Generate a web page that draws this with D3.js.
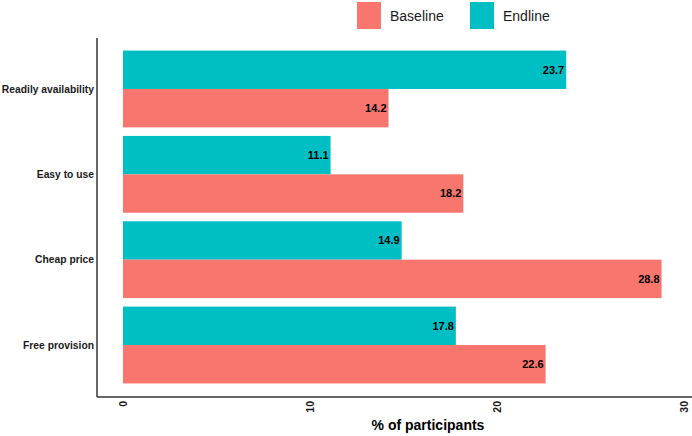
<!DOCTYPE html>
<html>
<head>
<meta charset="utf-8">
<script src="https://cdn.jsdelivr.net/npm/d3@7"></script>
<style>
  body { margin: 0; background: #fff; }
  svg { display: block; font-family: "Liberation Sans", Arial, sans-serif; }
</style>
</head>
<body>
<div id="chart"></div>
<script>
// data
var categories = ["Readily availability", "Easy to use", "Cheap price", "Free provision"];
var baseline = [14.2, 18.2, 28.8, 22.6];
var endline = [23.7, 11.1, 14.9, 17.8];
var series = ["Endline", "Baseline"];
var legendLabels = ["Baseline", "Endline"];
var xTicks = [0, 10, 20, 30];

var colors = {Baseline: "#F8766D", Endline: "#00BFC4"};

var width = 692, height = 436;

var svg = d3.select("#chart").append("svg")
  .attr("width", width)
  .attr("height", height);

var x = d3.scaleLinear()
  .domain([0, 30])
  .range([123, 684]);

var y = d3.scaleBand()
  .domain(categories)
  .range([46.3, 387.7])
  .paddingInner(0.1)
  .paddingOuter(0.05);

var sub = d3.scaleBand()
  .domain(series)
  .range([0, y.bandwidth()]);

var rows = [];
categories.forEach(function(c, i) {
  rows.push({cat: c, s: "Endline", v: endline[i]});
  rows.push({cat: c, s: "Baseline", v: baseline[i]});
});

// bars
svg.selectAll(".bar")
  .data(rows)
  .enter().append("rect")
    .attr("class", "bar")
    .attr("x", x(0))
    .attr("y", function(d) { return y(d.cat) + sub(d.s); })
    .attr("width", function(d) { return x(d.v) - x(0); })
    .attr("height", sub.bandwidth())
    .attr("fill", function(d) { return colors[d.s]; });

// value labels
svg.selectAll(".val")
  .data(rows)
  .enter().append("text")
    .attr("class", "val")
    .attr("x", function(d) { return x(d.v) - 2; })
    .attr("y", function(d) { return y(d.cat) + sub(d.s) + sub.bandwidth() / 2; })
    .attr("dy", "0.35em")
    .attr("text-anchor", "end")
    .attr("font-size", 11)
    .attr("font-weight", "bold")
    .attr("fill", "#000")
    .text(function(d) { return d.v.toFixed(1); });

// axis lines
svg.append("line")
  .attr("x1", 97).attr("x2", 97)
  .attr("y1", 38).attr("y2", 397)
  .attr("stroke", "#333").attr("stroke-width", 1.5);
svg.append("line")
  .attr("x1", 97).attr("x2", width)
  .attr("y1", 397).attr("y2", 397)
  .attr("stroke", "#333").attr("stroke-width", 1.5);

// category labels
svg.selectAll(".cat")
  .data(categories)
  .enter().append("text")
    .attr("class", "cat")
    .attr("x", 94)
    .attr("y", function(d) { return y(d) + y.bandwidth() / 2; })
    .attr("dy", "0.35em")
    .attr("text-anchor", "end")
    .attr("font-size", 10.3)
    .attr("font-weight", "bold")
    .attr("fill", "#1a1a1a")
    .text(function(d) { return d; });

// x tick labels, rotated
svg.selectAll(".tick")
  .data(xTicks)
  .enter().append("text")
    .attr("class", "tick")
    .attr("transform", function(d) { return "translate(" + x(d) + ",401) rotate(-90)"; })
    .attr("dy", "0.35em")
    .attr("text-anchor", "end")
    .attr("font-size", 10.5)
    .attr("font-weight", "bold")
    .attr("fill", "#1a1a1a")
    .text(function(d) { return d; });

svg.append("text")
  .attr("x", 428)
  .attr("y", 430)
  .attr("text-anchor", "middle")
  .attr("font-size", 14)
  .attr("font-weight", "bold")
  .attr("fill", "#000")
  .text("% of participants");

// legend
var leg = svg.selectAll(".leg")
  .data(legendLabels)
  .enter().append("g")
    .attr("class", "leg")
    .attr("transform", function(d, i) { return "translate(" + (357 + i * 113) + ",2)"; });

leg.append("rect")
  .attr("width", 24).attr("height", 27)
  .attr("fill", function(d) { return colors[d]; });

leg.append("text")
  .attr("x", 33)
  .attr("y", 14)
  .attr("dy", "0.35em")
  .attr("font-size", 14)
  .attr("fill", "#1a1a1a")
  .text(function(d) { return d; });
</script>
</body>
</html>
